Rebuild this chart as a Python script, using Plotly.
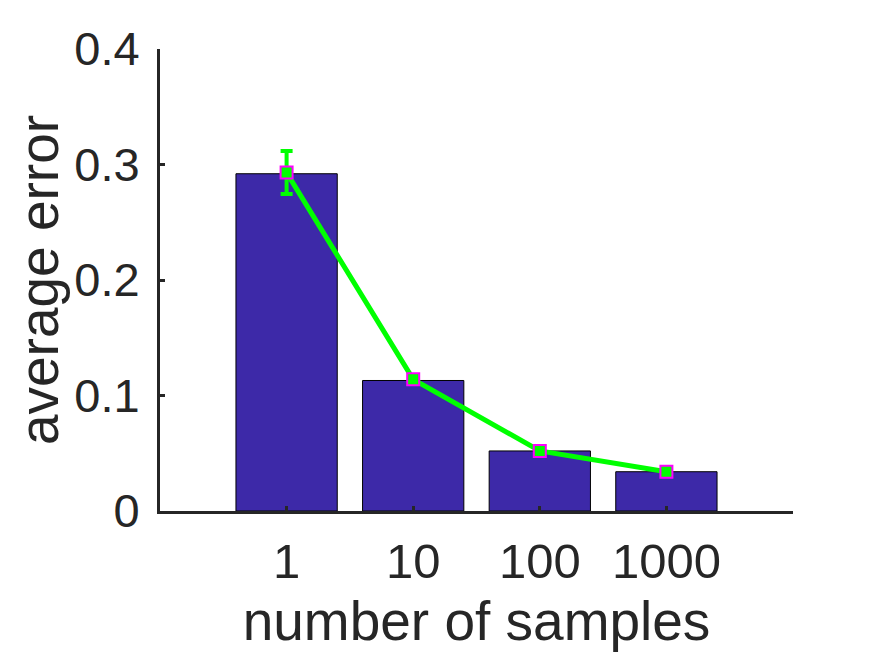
import plotly.graph_objects as go

# data
samples = ["1", "10", "100", "1000"]
bar_error = [0.292, 0.113, 0.052, 0.034]
line_error = [0.293, 0.114, 0.052, 0.034]
line_spread = [0.0186, 0.002, 0.0015, 0.001]
y_ticks = [0, 0.1, 0.2, 0.3, 0.4]

INK = "#262626"
FONT = "Liberation Sans, Arial, Helvetica, sans-serif"

fig = go.Figure()

fig.add_trace(go.Bar(
    x=samples,
    y=bar_error,
    width=0.8,
    marker=dict(color="#3D29A8", line=dict(color="black", width=1)),
    showlegend=False,
))

fig.add_trace(go.Scatter(
    x=samples,
    y=line_error,
    mode="lines+markers",
    line=dict(color="#00FF00", width=5),
    marker=dict(symbol="square", size=12, color="#00FF00",
                line=dict(color="#FF00FF", width=2)),
    error_y=dict(type="data", array=line_spread, color="#00FF00",
                 thickness=4, width=6),
    showlegend=False,
))

# the page body adds ~8px, so margins are shifted up/left
fig.update_layout(
    width=875,
    height=656,
    margin=dict(l=152, r=90, t=41, b=153),
    paper_bgcolor="white",
    plot_bgcolor="white",
    font=dict(family=FONT, color=INK, size=49),
    bargap=0.2,
)

fig.update_xaxes(
    type="category",
    range=[-1, 4],
    automargin=False,
    showline=True, linecolor=INK, linewidth=3,
    ticks="inside", ticklen=5, tickwidth=3, tickcolor=INK,
    tickfont=dict(size=49, color=INK),
    ticklabelstandoff=5,
    showgrid=False, zeroline=False,
    title=dict(text="number of samples", font=dict(size=55, color=INK)),
)

fig.update_yaxes(
    range=[0, 0.4],
    automargin=False,
    tickvals=y_ticks,
    ticktext=[("%g" % v) for v in y_ticks],
    showline=True, linecolor=INK, linewidth=3,
    ticks="inside", ticklen=5, tickwidth=3, tickcolor=INK,
    tickfont=dict(size=47, color=INK),
    ticklabelstandoff=8,
    showgrid=False, zeroline=False,
    title=dict(text="average error", font=dict(size=55, color=INK)),
)

fig.write_html("out.html")
